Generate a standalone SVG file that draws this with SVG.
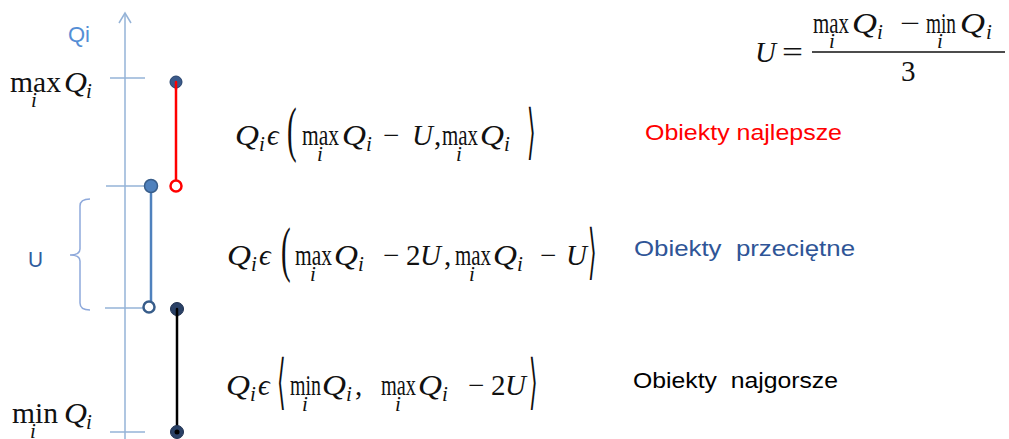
<svg xmlns="http://www.w3.org/2000/svg" width="1009" height="439" viewBox="0 0 1009 439">
<style>
.m{font-family:"Liberation Serif",serif;font-size:29px;fill:#111}
.mi{font-family:"Liberation Serif",serif;font-size:29px;font-style:italic;fill:#111}
.s{font-family:"Liberation Serif",serif;font-size:21px;font-style:italic;fill:#111}
.d{font-family:"DejaVu Sans",sans-serif;font-size:26px;fill:#111}
.lab{font-family:"Liberation Sans",sans-serif;font-size:22px}
.ax{stroke:#95B3D7;stroke-width:1.5;fill:none}
</style>
<rect width="1009" height="439" fill="#fff"/>
<g id="axis">
<line class="ax" x1="125" y1="439" x2="125" y2="13"/>
<polyline class="ax" points="119,23 125,13 131,23"/>
<line class="ax" x1="110" y1="78" x2="145" y2="78"/>
<line class="ax" x1="106" y1="186" x2="144" y2="186"/>
<line class="ax" x1="105" y1="308" x2="143" y2="308"/>
<line class="ax" x1="110" y1="432" x2="145" y2="432"/>
<text class="lab" x="68" y="42" fill="#558ED5" textLength="22" lengthAdjust="spacingAndGlyphs">Qi</text>
</g>
<g id="label-max">
<text class="m" x="10" y="92" textLength="51" lengthAdjust="spacingAndGlyphs">max</text>
<text class="s" x="31" y="107">i</text>
<text class="mi" x="64" y="92" textLength="23" lengthAdjust="spacingAndGlyphs">Q</text>
<text class="s" x="86" y="98">i</text>
</g>
<g id="label-min">
<text class="m" x="12" y="423" textLength="46" lengthAdjust="spacingAndGlyphs">min</text>
<text class="s" x="30" y="438">i</text>
<text class="mi" x="64" y="423" textLength="23" lengthAdjust="spacingAndGlyphs">Q</text>
<text class="s" x="86" y="429">i</text>
</g>
<g id="brace">
<path d="M90,199 Q80,199 80,206 L80,249 Q80,255 70,255 Q80,255 80,261 L80,303 Q80,310 90,310" fill="none" stroke="#8EA9DB" stroke-width="1.5"/>
<text class="lab" x="28" y="267" fill="#2F5C9E" textLength="15" lengthAdjust="spacingAndGlyphs">U</text>
</g>
<g id="connectors">
<line x1="176" y1="82" x2="176" y2="186" stroke="#FF0000" stroke-width="2.5"/>
<line x1="151" y1="186" x2="151" y2="307" stroke="#4F81BD" stroke-width="2.5"/>
<line x1="177" y1="309" x2="177" y2="432" stroke="#000" stroke-width="2.5"/>
</g>
<g id="points">
<circle cx="176" cy="82" r="6" fill="#3B5A8A" stroke="#24406A" stroke-width="1"/>
<line x1="176" y1="82" x2="176" y2="89" stroke="#FF0000" stroke-width="2.5" stroke-linecap="round"/>
<circle cx="176" cy="186" r="5.5" fill="#fff" stroke="#FF0000" stroke-width="2.5"/>
<circle cx="151" cy="186" r="6.5" fill="#4F81BD" stroke="#385D8A" stroke-width="1.5"/>
<circle cx="149" cy="307" r="5.5" fill="#fff" stroke="#385D8A" stroke-width="2.5"/>
<circle cx="177" cy="309" r="6.5" fill="#2A4166" stroke="#1F3050" stroke-width="1"/>
<line x1="177" y1="309" x2="177" y2="316" stroke="#000" stroke-width="2.5" stroke-linecap="round"/>
<circle cx="177" cy="432" r="6.5" fill="#2A4166" stroke="#1F3050" stroke-width="1"/>
<circle cx="177" cy="432" r="2.5" fill="#000"/>
</g>
<g id="formula-U">
<text class="mi" x="755" y="62" textLength="21" lengthAdjust="spacingAndGlyphs">U</text>
<text class="m" x="782" y="62" textLength="21" lengthAdjust="spacingAndGlyphs">=</text>
<line x1="812" y1="52" x2="1005" y2="52" stroke="#111" stroke-width="1.3"/>
<text class="m" x="813" y="33" textLength="36" lengthAdjust="spacingAndGlyphs">max</text>
<text class="s" x="829" y="48">i</text>
<text class="mi" x="852" y="33" textLength="25" lengthAdjust="spacingAndGlyphs">Q</text>
<text class="s" x="877" y="39">i</text>
<text class="m" x="900" y="33" textLength="20" lengthAdjust="spacingAndGlyphs">−</text>
<text class="m" x="926" y="33" textLength="30" lengthAdjust="spacingAndGlyphs">min</text>
<text class="s" x="937" y="48">i</text>
<text class="mi" x="960" y="33" textLength="25" lengthAdjust="spacingAndGlyphs">Q</text>
<text class="s" x="986" y="39">i</text>
<text class="m" x="901" y="81">3</text>
</g>
<g id="formula-best">
<text class="mi" x="235" y="145" textLength="24" lengthAdjust="spacingAndGlyphs">Q</text>
<text class="s" x="259" y="151">i</text>
<text class="mi" x="267" y="145">ϵ</text>
<text class="m" transform="translate(287,150) scale(1,2.1)">(</text>
<text class="m" x="302" y="145" textLength="37" lengthAdjust="spacingAndGlyphs">max</text>
<text class="s" x="317" y="161">i</text>
<text class="mi" x="342" y="145" textLength="24" lengthAdjust="spacingAndGlyphs">Q</text>
<text class="s" x="366" y="151">i</text>
<text class="m" x="383" y="145">−</text>
<text class="mi" x="412" y="145">U</text>
<text class="m" x="434" y="145">,</text>
<text class="m" x="442" y="145" textLength="36" lengthAdjust="spacingAndGlyphs">max</text>
<text class="s" x="456" y="161">i</text>
<text class="mi" x="480" y="145" textLength="24" lengthAdjust="spacingAndGlyphs">Q</text>
<text class="s" x="504" y="151">i</text>
<text class="d" transform="translate(527,152) scale(0.85,2.3)">⟩</text>
</g>
<g id="formula-avg">
<text class="mi" x="227" y="265" textLength="24" lengthAdjust="spacingAndGlyphs">Q</text>
<text class="s" x="251" y="271">i</text>
<text class="mi" x="259" y="265">ϵ</text>
<text class="m" transform="translate(281,270) scale(1,2.1)">(</text>
<text class="m" x="295" y="265" textLength="37" lengthAdjust="spacingAndGlyphs">max</text>
<text class="s" x="310" y="281">i</text>
<text class="mi" x="334" y="265" textLength="24" lengthAdjust="spacingAndGlyphs">Q</text>
<text class="s" x="358" y="271">i</text>
<text class="m" x="383" y="265">−</text>
<text class="m" x="406" y="265">2</text>
<text class="mi" x="420" y="265">U</text>
<text class="m" x="444" y="265">,</text>
<text class="m" x="455" y="265" textLength="36" lengthAdjust="spacingAndGlyphs">max</text>
<text class="s" x="469" y="281">i</text>
<text class="mi" x="493" y="265" textLength="24" lengthAdjust="spacingAndGlyphs">Q</text>
<text class="s" x="517" y="271">i</text>
<text class="m" x="540" y="265">−</text>
<text class="mi" x="566" y="265">U</text>
<text class="d" transform="translate(588,272) scale(0.85,2.3)">⟩</text>
</g>
<g id="formula-worst">
<text class="mi" x="226" y="395" textLength="24" lengthAdjust="spacingAndGlyphs">Q</text>
<text class="s" x="250" y="401">i</text>
<text class="mi" x="258" y="395">ϵ</text>
<text class="d" transform="translate(277,402) scale(0.85,2.3)">⟨</text>
<text class="m" x="290" y="395" textLength="31" lengthAdjust="spacingAndGlyphs">min</text>
<text class="s" x="302" y="411">i</text>
<text class="mi" x="322" y="395" textLength="24" lengthAdjust="spacingAndGlyphs">Q</text>
<text class="s" x="346" y="401">i</text>
<text class="m" x="355" y="395">,</text>
<text class="m" x="381" y="395" textLength="35" lengthAdjust="spacingAndGlyphs">max</text>
<text class="s" x="395" y="411">i</text>
<text class="mi" x="418" y="395" textLength="24" lengthAdjust="spacingAndGlyphs">Q</text>
<text class="s" x="442" y="401">i</text>
<text class="m" x="468" y="395">−</text>
<text class="m" x="491" y="395">2</text>
<text class="mi" x="505" y="395">U</text>
<text class="d" transform="translate(529,402) scale(0.85,2.3)">⟩</text>
</g>
<g id="label-best"><text class="lab" x="645" y="140" fill="#FF0000" textLength="197" lengthAdjust="spacingAndGlyphs">Obiekty najlepsze</text></g>
<g id="label-avg"><text class="lab" x="634" y="256" fill="#2F5597" textLength="221" lengthAdjust="spacingAndGlyphs" xml:space="preserve">Obiekty  przeciętne</text></g>
<g id="label-worst"><text class="lab" x="633" y="388" fill="#000" textLength="205" lengthAdjust="spacingAndGlyphs" xml:space="preserve">Obiekty  najgorsze</text></g>
</svg>
